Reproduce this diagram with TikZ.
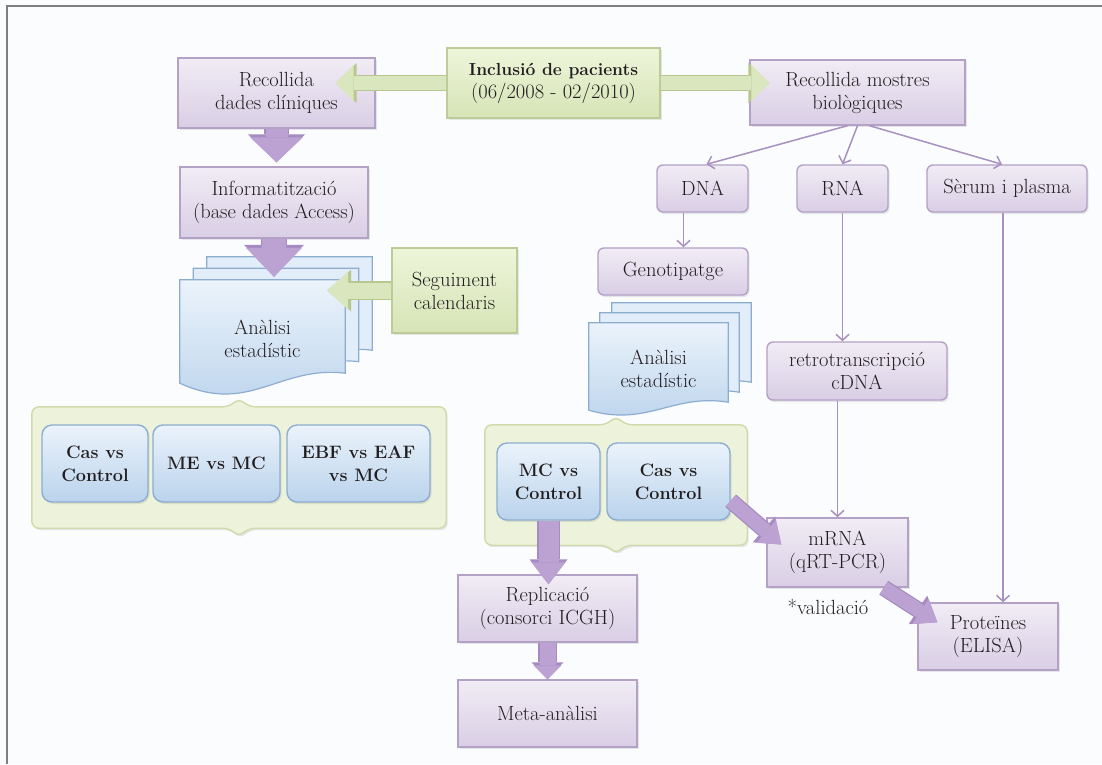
\documentclass[tikz,border=0pt]{standalone}
\usepackage{fontspec}
\usetikzlibrary{arrows.meta,shadows,calc}
\definecolor{pfillT}{HTML}{F1ECF5}
\definecolor{pfillB}{HTML}{D9CEE5}
\definecolor{pdraw}{HTML}{B3A1C6}
\definecolor{gfillT}{HTML}{EEF5DA}
\definecolor{gfillB}{HTML}{D6E4B6}
\definecolor{gdraw}{HTML}{BCCB97}
\definecolor{bfillT}{HTML}{EBF3FB}
\definecolor{bfillB}{HTML}{BAD3EC}
\definecolor{bdraw}{HTML}{8DADD0}
\definecolor{bpageT}{HTML}{E1EDF8}
\definecolor{cfill}{HTML}{EDF3DA}
\definecolor{cdraw}{HTML}{D0DBAB}
\definecolor{fatpc}{HTML}{BBA2D3}
\definecolor{fatpe}{HTML}{A58BC1}
\definecolor{fatgc}{HTML}{DAE7BE}
\definecolor{fatge}{HTML}{B7C78F}
\definecolor{thinpc}{HTML}{A890C1}
\definecolor{txt}{HTML}{221E20}
\definecolor{bgc}{HTML}{FBFCFE}
\definecolor{framec}{HTML}{7F7F7F}
\pgfdeclarelayer{bglayer}
\pgfdeclarelayer{backlayer}
\pgfsetlayers{bglayer,backlayer,main}
\tikzset{
  base/.style={text=txt, align=center, font=\fontsize{20.5}{23}\selectfont, inner sep=0pt},
  shad/.style={drop shadow={opacity=0.18, shadow xshift=1.5pt, shadow yshift=-2pt}},
  pbox/.style={base, draw=pdraw, line width=1.4pt, top color=pfillT, bottom color=pfillB, shad},
  prbox/.style={pbox, rounded corners=6pt},
  gbox/.style={base, draw=gdraw, line width=1.4pt, top color=gfillT, bottom color=gfillB, shad},
  bbox/.style={base, font=\fontsize{18}{23}\selectfont\bfseries, draw=bdraw, line width=1.4pt, rounded corners=10pt, top color=bfillT, bottom color=bfillB, shad},
  docn/.style={base},
  contn/.style={inner sep=0pt},
  docline/.style={draw=bdraw, line width=1.2pt},
  fatarr/.style n args={5}{draw=#1, line width=#2, -{Triangle[length=#3,width=#4,line width=0pt]},
     preaction={draw=#5, line width=#2+2.4pt, -{Triangle[length=#3+3pt,width=#4+4pt,line width=0pt]}}},
  thin/.style={draw=thinpc, line width=1.5pt, -{Straight Barb[length=6pt,width=13pt]}},
}
\newcommand\docpage[6]{%
  \path[docline, #6] (#1.north west) -- (#1.north east) -- ($(#1.south east)+(0,#2)$)
    .. controls ($(#1.south west)!0.6!(#1.south east)+(0,#4)$) and ($(#1.south west)!0.42!(#1.south east)+(0,#5)$) ..
    ($(#1.south west)+(0,#3)$) -- cycle;}
\newcommand\bracketshape[1]{%
  \path[draw=cdraw, line width=1.4pt, fill=cfill, rounded corners=7pt, shad]
    (#1.north west) -- ($(#1.north)+(-9,0)$) -- ($(#1.north)+(0,-9)$) -- ($(#1.north)+(9,0)$) -- (#1.north east)
    -- (#1.south east) -- ($(#1.south)+(9,0)$) -- ($(#1.south)+(0,9)$) -- ($(#1.south)+(-9,0)$) -- (#1.south west) -- cycle;}
\begin{document}
\begin{tikzpicture}[x=1pt,y=-1pt]
\useasboundingbox (0,0) rectangle (1102,764);
\begin{pgfonlayer}{bglayer}
  \fill[bgc] (0,0) rectangle (1102,764);
  \draw[framec, line width=2.2pt] (7,764) -- (7,6) -- (1102,6);
\end{pgfonlayer}

% left column
\node[pbox, minimum width=197, minimum height=70] (rdc) at (276.5,93) {Recollida\\dades clíniques};
\node[gbox, minimum width=213, minimum height=70] (incl) at (553.5,83) {\fontsize{17.5}{23}\selectfont\textbf{Inclusió de pacients}\\(06/2008 - 02/2010)};
\node[pbox, minimum width=215, minimum height=65] (rmb) at (857.5,92.5) {Recollida mostres\\biològiques};
\node[pbox, minimum width=188, minimum height=71] (info) at (274,202.5) {Informatització\\(base dades Access)};
\node[docn, minimum width=165, minimum height=117] (docL) at (262.5,338.5) {Anàlisi\\estadístic};
\node[gbox, minimum width=125, minimum height=85] (seg) at (454.5,290.5) {Seguiment\\calendaris};
\node[contn, minimum width=414, minimum height=121] (contL) at (239,467.5) {};
\node[bbox, minimum width=106, minimum height=77] (b1) at (95,463.5) {Cas vs\\Control};
\node[bbox, minimum width=127, minimum height=77] (b2) at (216.5,463.5) {ME vs MC};
\node[bbox, minimum width=143, minimum height=77] (b3) at (358.5,463.5) {EBF vs EAF\\vs MC};

% right column
\node[prbox, minimum width=91, minimum height=47] (dna) at (702.5,188.5) {DNA};
\node[prbox, minimum width=91, minimum height=47] (rna) at (842.5,188.5) {RNA};
\node[prbox, minimum width=160, minimum height=47] (ser) at (1007,188.5) {Sèrum i plasma};
\node[prbox, minimum width=150, minimum height=47] (geno) at (673,271.5) {Genotipatge};
\node[docn, minimum width=139, minimum height=92] (docR) at (658.5,369) {Anàlisi\\estadístic};
\node[prbox, minimum width=180, minimum height=58] (retro) at (857,371) {retrotranscripció\\cDNA};
\node[contn, minimum width=262, minimum height=120] (contR) at (616,485) {};
\node[bbox, minimum width=103, minimum height=77] (mcc) at (548.5,481.5) {MC vs\\Control};
\node[bbox, minimum width=123, minimum height=77] (cvc) at (668.5,481.5) {Cas vs\\Control};
\node[pbox, minimum width=179, minimum height=67] (repl) at (547.5,608.5) {Replicació\\(consorci ICGH)};
\node[pbox, minimum width=179, minimum height=67] (meta) at (547.5,713.5) {Meta-anàlisi};
\node[pbox, minimum width=141, minimum height=69] (mrna) at (837.5,552.5) {mRNA\\(qRT-PCR)};
\node[base] (val) at (828,607) {*validació};
\node[pbox, minimum width=140, minimum height=67] (prot) at (988,636.5) {Proteïnes\\(ELISA)};

% background shapes: containers and document stacks
\begin{pgfonlayer}{backlayer}
  \bracketshape{contL}
  \bracketshape{contR}
  \begin{scope}[transform canvas={xshift=27pt,yshift=23pt}]
    \docpage{docL}{-24}{-14}{-32}{18}{fill=bpageT}
  \end{scope}
  \begin{scope}[transform canvas={xshift=13.5pt,yshift=11.5pt}]
    \docpage{docL}{-24}{-14}{-32}{18}{fill=bpageT}
  \end{scope}
  \docpage{docL}{-24}{-14}{-32}{18}{top color=bfillT,bottom color=bfillB}
  \begin{scope}[transform canvas={xshift=23pt,yshift=20pt}]
    \docpage{docR}{-13}{-5}{-22}{12}{fill=bpageT}
  \end{scope}
  \begin{scope}[transform canvas={xshift=11pt,yshift=10pt}]
    \docpage{docR}{-13}{-5}{-22}{12}{fill=bpageT}
  \end{scope}
  \docpage{docR}{-13}{-5}{-22}{12}{top color=bfillT,bottom color=bfillB}
\end{pgfonlayer}

% thin connectors
\coordinate (dg) at ($(dna.south)+(-19,0)$);
\coordinate (sp) at ($(ser.south)+(-4,0)$);
\draw[thin] ($(rmb.south)+(-10,0)$) -- ($(dna.north)+(4,0)$);
\draw[thin] (rmb.south) -- (rna.north);
\draw[thin] ($(rmb.south)+(12,0)$) -- ($(ser.north)+(-5,0)$);
\draw[thin] (dg) -- (dg |- geno.north);
\draw[thin] (rna.south) -- (rna.south |- retro.north);
\draw[thin] (mrna.north |- retro.south) -- (mrna.north);
\draw[thin] (sp) -- (sp |- prot.north);

% fat connectors
\draw[fatarr={fatgc}{14pt}{18pt}{36pt}{fatge}] (incl.west) -- ($(incl.west -| rdc.east)+(-40,0)$);
\draw[fatarr={fatgc}{14pt}{18pt}{36pt}{fatge}] (incl.east) -- ($(incl.east -| rmb.west)+(20,0)$);
\draw[fatarr={fatgc}{16pt}{21pt}{38pt}{fatge}] (seg.west) -- ($(seg.west -| docL.east)+(-18,0)$);
\draw[fatarr={fatpc}{22pt}{25pt}{53pt}{fatpe}] (rdc.south) -- ($(rdc.south |- info.north)+(0,-4)$);
\draw[fatarr={fatpc}{24pt}{29pt}{56pt}{fatpe}] (info.south) -- ($(info.south |- docL.north)+(0,-3)$);
\draw[fatarr={fatpc}{20pt}{22pt}{34pt}{fatpe}] (mcc.south) -- ($(mcc.south |- repl.north)+(0,10)$);
\draw[fatarr={fatpc}{16pt}{14pt}{28pt}{fatpe}] (repl.south) -- (meta.north);
\draw[fatarr={fatpc}{14pt}{20pt}{30pt}{fatpe}] ($(cvc.south east)+(0,-20)$) -- ($(mrna.west)+(15,-8)$);
\draw[fatarr={fatpc}{14pt}{20pt}{30pt}{fatpe}] ($(mrna.south east)+(-25,0)$) -- ($(prot.north west)+(20,20)$);
\end{tikzpicture}
\end{document}
